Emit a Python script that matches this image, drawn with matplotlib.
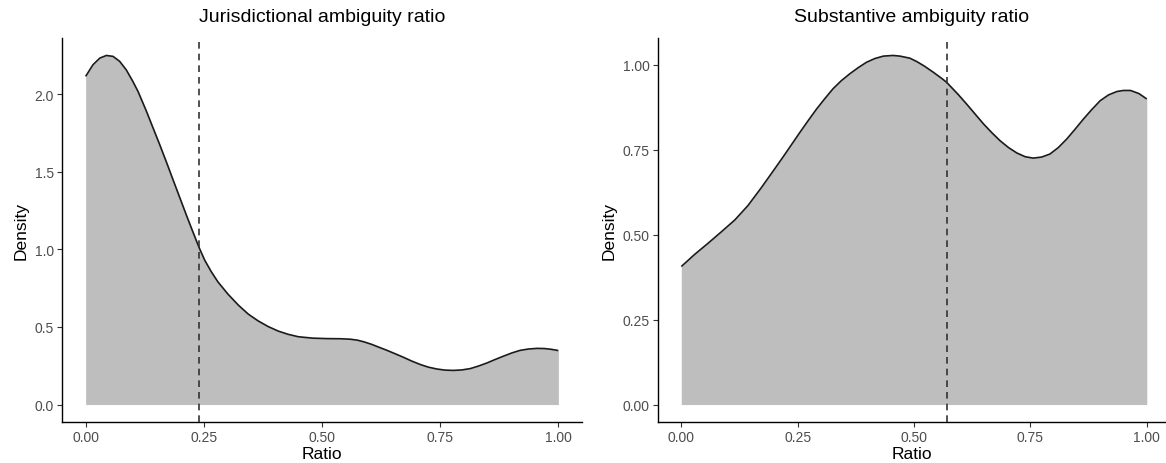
import matplotlib
matplotlib.use("Agg")
import matplotlib.pyplot as plt

plt.rcParams["font.family"] = ["Liberation Sans", "DejaVu Sans"]

# Kernel density estimates of the two ratios (x = ratio, y = density)
juris_x = [0.00, 0.0155, 0.03, 0.044, 0.058, 0.072, 0.086, 0.10, 0.111, 0.128,
           0.143, 0.157, 0.171, 0.185, 0.199, 0.213, 0.227, 0.24, 0.252, 0.266,
           0.28, 0.301, 0.323, 0.344, 0.365, 0.386, 0.407, 0.428, 0.45, 0.48,
           0.51, 0.54, 0.56, 0.575, 0.59, 0.605, 0.62, 0.637, 0.655, 0.672,
           0.69, 0.708, 0.725, 0.743, 0.76, 0.778, 0.796, 0.814, 0.831, 0.849,
           0.866, 0.884, 0.902, 0.919, 0.937, 0.955, 0.97, 0.985, 1.00]
juris_y = [2.115, 2.19, 2.233, 2.25, 2.244, 2.212, 2.157, 2.082, 2.017, 1.895,
           1.78, 1.673, 1.562, 1.448, 1.335, 1.222, 1.112, 1.012, 0.93, 0.855,
           0.79, 0.712, 0.641, 0.583, 0.539, 0.503, 0.474, 0.453, 0.437, 0.428,
           0.425, 0.424, 0.421, 0.415, 0.403, 0.388, 0.37, 0.35, 0.327, 0.305,
           0.28, 0.258, 0.241, 0.229, 0.222, 0.22, 0.223, 0.232, 0.248, 0.268,
           0.29, 0.312, 0.333, 0.349, 0.358, 0.362, 0.361, 0.356, 0.348]
juris_median = 0.240

subst_x = [0.00, 0.029, 0.058, 0.086, 0.115, 0.143, 0.172, 0.2, 0.219, 0.237,
           0.255, 0.273, 0.291, 0.309, 0.326, 0.344, 0.362, 0.380, 0.398, 0.416,
           0.434, 0.455, 0.47, 0.491, 0.506, 0.523, 0.541, 0.559, 0.570, 0.577,
           0.595, 0.613, 0.631, 0.649, 0.667, 0.685, 0.703, 0.721, 0.739, 0.756,
           0.774, 0.792, 0.810, 0.828, 0.846, 0.864, 0.882, 0.900, 0.918, 0.936,
           0.950, 0.965, 0.983, 1.00]
subst_y = [0.406, 0.442, 0.475, 0.508, 0.543, 0.585, 0.638, 0.692, 0.729, 0.765,
           0.801, 0.836, 0.87, 0.901, 0.929, 0.953, 0.973, 0.991, 1.007, 1.018,
           1.025, 1.027, 1.025, 1.019, 1.009, 0.995, 0.978, 0.96, 0.948, 0.938,
           0.912, 0.884, 0.855, 0.826, 0.80, 0.776, 0.756, 0.74, 0.729, 0.725,
           0.728, 0.737, 0.756, 0.781, 0.81, 0.84, 0.868, 0.894, 0.911, 0.921,
           0.924, 0.924, 0.915, 0.899]
subst_median = 0.570

x_ticks = [0.00, 0.25, 0.50, 0.75, 1.00]
x_ticklabels = ["0.00", "0.25", "0.50", "0.75", "1.00"]
juris_yticks = [0.0, 0.5, 1.0, 1.5, 2.0]
juris_yticklabels = ["0.0", "0.5", "1.0", "1.5", "2.0"]
subst_yticks = [0.0, 0.25, 0.5, 0.75, 1.0]
subst_yticklabels = ["0.00", "0.25", "0.50", "0.75", "1.00"]

FILL = "#BEBEBE"
W, H = 1166, 464
fig = plt.figure(figsize=(W / 100, H / 100), dpi=100)

ax1 = fig.add_axes([62 / W, 41 / H, 520 / W, 384 / H])
ax2 = fig.add_axes([658 / W, 41 / H, 508 / W, 384 / H])


def density_panel(ax, xs, ys, med, yticks, yticklabels, title, xlim_right):
    ymax = max(ys)
    ax.fill_between(xs, 0, ys, color=FILL, linewidth=0, zorder=1)
    ax.plot(xs, ys, color="#1a1a1a", linewidth=1.2, zorder=3,
            solid_joinstyle="round", solid_capstyle="butt")
    ax.axvline(med, color="#333333", linewidth=1.2, linestyle=(0, (4, 3)),
               zorder=4)
    ax.set_xlim(-0.05, xlim_right)
    ax.set_ylim(-0.05 * ymax, 1.05 * ymax)
    ax.set_xticks(x_ticks)
    ax.set_xticklabels(x_ticklabels)
    ax.set_yticks(yticks)
    ax.set_yticklabels(yticklabels)
    for side in ("top", "right"):
        ax.spines[side].set_visible(False)
    for side in ("left", "bottom"):
        ax.spines[side].set_linewidth(1.0)
        ax.spines[side].set_color("black")
    ax.tick_params(axis="both", direction="out", length=3.5, width=0.8,
                   color="#333333", labelcolor="#4D4D4D", labelsize=10, pad=2.5)
    ax.set_xlabel("Ratio", fontsize=12.5, labelpad=1)
    ax.set_ylabel("Density", fontsize=12.5, labelpad=4)
    ax.set_title(title, fontsize=14, pad=12)


density_panel(ax1, juris_x, juris_y, juris_median, juris_yticks,
              juris_yticklabels, "Jurisdictional ambiguity ratio", 1.05)
density_panel(ax2, subst_x, subst_y, subst_median, subst_yticks,
              subst_yticklabels, "Substantive ambiguity ratio",
              -0.05 + 508 / 465.5)

fig.savefig("out.png", dpi=100)
